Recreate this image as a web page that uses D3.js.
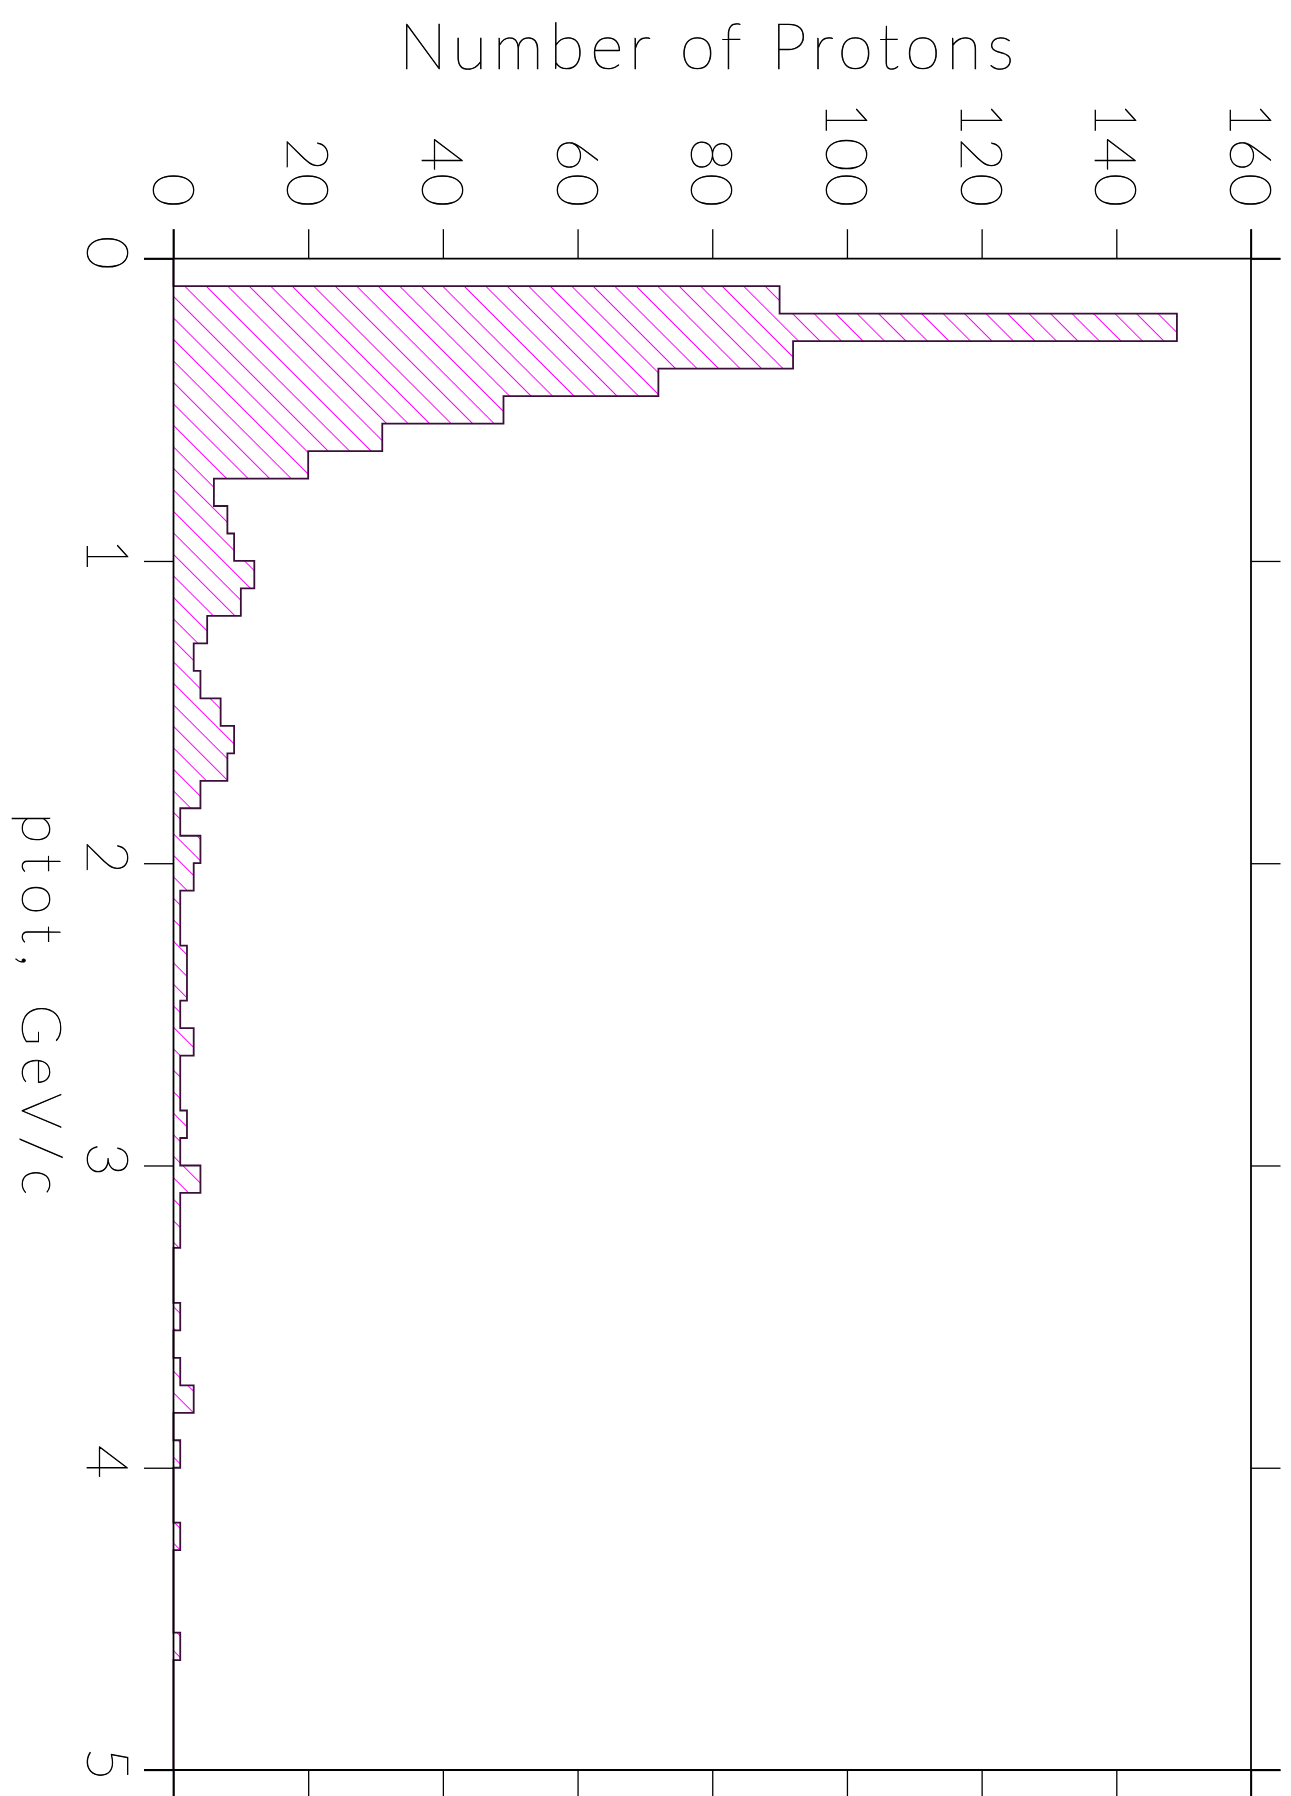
<!DOCTYPE html>
<html>
<head>
<meta charset="utf-8">
<script src="https://cdn.jsdelivr.net/npm/d3@7"></script>
<style>
  html, body { margin: 0; padding: 0; background: #fff; }
  svg { display: block; }
  text { font-family: Lato, "DejaVu Sans", sans-serif; font-weight: 100; fill: #000; stroke: #000; stroke-width: 0.7; }
</style>
</head>
<body>
<svg id="chart" width="1291" height="1796"></svg>
<script>
// Histogram definition: total momentum bins
const ptotMin = 0;
const ptotMax = 5;
const binCount = 55;

// Number of protons per ptot bin
const protonCounts = [
  0, 90, 149, 92, 72, 49, 31, 20, 6, 8,
  9, 12, 10, 5, 3, 4, 7, 9, 8, 4,
  1, 4, 3, 1, 1, 2, 2, 1, 3, 1,
  1, 2, 1, 4, 1, 1, 0, 0, 1, 0,
  1, 3, 0, 1, 0, 0, 1, 0, 0, 0,
  1, 0, 0, 0, 0
];

// Axis ticks and labels
const countTicks = [0, 20, 40, 60, 80, 100, 120, 140, 160];
const ptotTicks = [0, 1, 2, 3, 4, 5];
const titleText = "Number of Protons";
const axisTitleText = "ptot, GeV/c";

const svg = d3.select("#chart");
svg.append("rect").attr("width", 1291).attr("height", 1796).attr("fill", "#fff");

const frame = { left: 173.5, right: 1251, top: 258.7, bottom: 1770 };
const tickLen = 29.5;

// Counts run left to right, ptot runs top to bottom
const xs = d3.scaleLinear().domain([0, 160]).range([frame.left, frame.right]);
const ys = d3.scaleLinear().domain([ptotMin, ptotMax]).range([frame.top, frame.bottom]);

const binWidth = (ptotMax - ptotMin) / binCount;
const bins = protonCounts.map((v, i) => ({
  lo: ptotMin + i * binWidth,
  hi: ptotMin + (i + 1) * binWidth,
  v
}));

// Diagonal hatch fill
const defs = svg.append("defs");
const pat = defs.append("pattern")
  .attr("id", "hatch")
  .attr("patternUnits", "userSpaceOnUse")
  .attr("width", 15.2)
  .attr("height", 40)
  .attr("patternTransform", "rotate(-45)");
pat.append("line")
  .attr("x1", 4.4).attr("x2", 4.4)
  .attr("y1", -5).attr("y2", 45)
  .attr("stroke", "#ff00ff")
  .attr("stroke-width", 1.1)
  .attr("shape-rendering", "crispEdges");

// Step outline points
const stepPts = [];
bins.forEach(b => {
  stepPts.push({ p: b.lo, v: b.v });
  stepPts.push({ p: b.hi, v: b.v });
});

const area = d3.area()
  .y(d => ys(d.p))
  .x0(xs(0))
  .x1(d => xs(d.v));

svg.append("path")
  .datum(stepPts)
  .attr("d", area)
  .attr("fill", "url(#hatch)");

const outlinePts = [{ p: ptotMin, v: 0 }, ...stepPts, { p: ptotMax, v: 0 }];
const line = d3.line()
  .y(d => ys(d.p))
  .x(d => xs(d.v));

svg.append("path")
  .datum(outlinePts)
  .attr("d", line)
  .attr("fill", "none")
  .attr("stroke", "#3a0f3a")
  .attr("stroke-width", 1.8)
  .attr("stroke-linejoin", "miter");

// Axes ticks
const axTop = svg.append("g")
  .attr("transform", `translate(0,${frame.top})`)
  .call(d3.axisTop(xs).tickValues(countTicks).tickSize(tickLen).tickSizeOuter(0).tickFormat(""));
const axBottom = svg.append("g")
  .attr("transform", `translate(0,${frame.bottom})`)
  .call(d3.axisBottom(xs).tickValues(countTicks).tickSize(tickLen).tickSizeOuter(0).tickFormat(""));
const axLeft = svg.append("g")
  .attr("transform", `translate(${frame.left},0)`)
  .call(d3.axisLeft(ys).tickValues(ptotTicks).tickSize(tickLen).tickSizeOuter(0).tickFormat(""));
const axRight = svg.append("g")
  .attr("transform", `translate(${frame.right},0)`)
  .call(d3.axisRight(ys).tickValues(ptotTicks).tickSize(tickLen).tickSizeOuter(0).tickFormat(""));

[axTop, axBottom, axLeft, axRight].forEach(g => {
  g.select(".domain").remove();
  g.selectAll(".tick line").attr("stroke", "#000").attr("stroke-width", 1.3);
});

// Frame, each side overshooting by the tick length
const frameG = svg.append("g").attr("stroke", "#000").attr("stroke-width", 1.8);
frameG.append("line").attr("x1", frame.left - tickLen).attr("x2", frame.right + tickLen)
  .attr("y1", frame.top).attr("y2", frame.top);
frameG.append("line").attr("x1", frame.left - tickLen).attr("x2", frame.right + tickLen)
  .attr("y1", frame.bottom).attr("y2", frame.bottom);
frameG.append("line").attr("x1", frame.left).attr("x2", frame.left)
  .attr("y1", frame.top - tickLen).attr("y2", frame.bottom + tickLen);
frameG.append("line").attr("x1", frame.right).attr("x2", frame.right)
  .attr("y1", frame.top - tickLen).attr("y2", frame.bottom + tickLen);

// Count labels, rotated, ending above the top ticks
svg.append("g").selectAll("text")
  .data(countTicks)
  .join("text")
  .attr("transform", d => `translate(${xs(d)},209) rotate(90)`)
  .attr("text-anchor", "end")
  .attr("dy", 21)
  .attr("letter-spacing", 2)
  .attr("font-size", 58)
  .text(d => d);

// ptot labels, rotated, left of the frame
svg.append("g").selectAll("text")
  .data(ptotTicks)
  .join("text")
  .attr("transform", d => `translate(87,${ys(d) - 6}) rotate(90)`)
  .attr("text-anchor", "middle")
  .attr("font-size", 58)
  .text(d => d);

// Title
svg.append("text")
  .attr("x", 399)
  .attr("y", 69)
  .attr("font-size", 64)
  .attr("textLength", 615)
  .attr("lengthAdjust", "spacing")
  .text(titleText);

// ptot axis title
svg.append("text")
  .attr("transform", "translate(22,813) rotate(90)")
  .attr("font-size", 56)
  .attr("textLength", 382)
  .attr("lengthAdjust", "spacing")
  .text(axisTitleText);
</script>
</body>
</html>
